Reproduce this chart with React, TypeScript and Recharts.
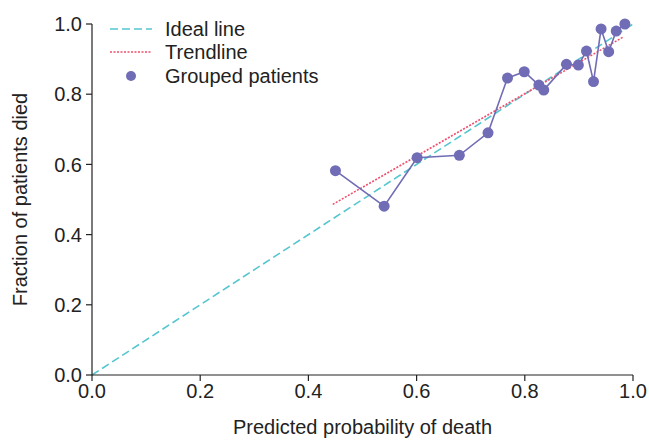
import React from "react";
import {
    ComposedChart,
    Line,
    XAxis,
    YAxis,
    Label
} from "recharts";

// Grouped patients: predicted probability vs observed fraction
const predicted = [0.450, 0.540, 0.601, 0.679, 0.732, 0.768, 0.799, 0.826, 0.835, 0.877, 0.899, 0.914, 0.927, 0.941, 0.955, 0.969, 0.985];
const observed = [0.582, 0.481, 0.619, 0.626, 0.690, 0.846, 0.864, 0.826, 0.812, 0.885, 0.883, 0.923, 0.836, 0.986, 0.921, 0.980, 1.000];

const idealX = [0, 1];
const idealY = [0, 1];
const trendX = [0.445, 0.983];
const trendY = [0.486, 0.964];

const ticks = [0, 0.2, 0.4, 0.6, 0.8, 1.0];

const groupedData = predicted.map((x, i) => ({ x, y: observed[i] }));
const idealData = idealX.map((x, i) => ({ x, y: idealY[i] }));
const trendData = trendX.map((x, i) => ({ x, y: trendY[i] }));

const IDEAL = "#55c6cf";
const TREND = "#f04e6c";
const POINTS = "#706cb5";
const INK = "#222";
const FONT = "'Liberation Sans', Arial, sans-serif";

function ChartLegend() {
    const row = { display: "flex", alignItems: "center", height: 23.5 } as React.CSSProperties;
    return (
        <div style={{ position: "absolute", left: 110, top: 17, fontFamily: FONT, fontSize: 20, color: INK, lineHeight: 1 }}>
            <div style={row}>
                <svg width={55} height={10}>
                    <line x1={0} y1={5} x2={42} y2={5} stroke={IDEAL} strokeWidth={1.6} strokeDasharray="8 4" />
                </svg>
                <span>Ideal line</span>
            </div>
            <div style={row}>
                <svg width={55} height={10}>
                    <line x1={0} y1={5} x2={42} y2={5} stroke={TREND} strokeWidth={1.6} strokeDasharray="2 1.5" />
                </svg>
                <span>Trendline</span>
            </div>
            <div style={row}>
                <svg width={55} height={12}>
                    <circle cx={21} cy={6} r={5} fill={POINTS} />
                </svg>
                <span>Grouped patients</span>
            </div>
        </div>
    );
}

export default function App() {
    return (
        <div style={{ position: "relative", width: 649, height: 440 }}>
            <style>{`body{margin:0;}`}</style>
            <ComposedChart width={649} height={440} margin={{ top: 24, right: 16, left: 0, bottom: 0 }}>
                <XAxis
                    type="number"
                    dataKey="x"
                    domain={[0, 1]}
                    ticks={ticks}
                    tickFormatter={(v: number) => v.toFixed(1)}
                    height={65}
                    tickSize={6}
                    tickMargin={3}
                    axisLine={{ stroke: INK, strokeWidth: 1.2 }}
                    tickLine={{ stroke: INK, strokeWidth: 1.2 }}
                    tick={{ fontSize: 20, fill: INK, fontFamily: FONT }}
                    allowDuplicatedCategory={false}
                >
                    <Label
                        value="Predicted probability of death"
                        position="insideBottom"
                        offset={6}
                        style={{ fontSize: 20, fill: INK, fontFamily: FONT }}
                    />
                </XAxis>
                <YAxis
                    type="number"
                    dataKey="y"
                    domain={[0, 1]}
                    ticks={ticks}
                    tickFormatter={(v: number) => v.toFixed(1)}
                    width={92}
                    tickSize={6}
                    tickMargin={4}
                    axisLine={{ stroke: INK, strokeWidth: 1.2 }}
                    tickLine={{ stroke: INK, strokeWidth: 1.2 }}
                    tick={{ fontSize: 20, fill: INK, fontFamily: FONT }}
                >
                    <Label
                        value="Fraction of patients died"
                        angle={-90}
                        position="insideLeft"
                        offset={20}
                        style={{ fontSize: 20, fill: INK, fontFamily: FONT, textAnchor: "middle" }}
                    />
                </YAxis>
                <Line
                    data={idealData}
                    dataKey="y"
                    type="linear"
                    stroke={IDEAL}
                    strokeWidth={1.6}
                    strokeDasharray="8 4"
                    dot={false}
                    isAnimationActive={false}
                />
                <Line
                    data={trendData}
                    dataKey="y"
                    type="linear"
                    stroke={TREND}
                    strokeWidth={1.6}
                    strokeDasharray="2 1.5"
                    dot={false}
                    isAnimationActive={false}
                />
                <Line
                    data={groupedData}
                    dataKey="y"
                    type="linear"
                    stroke={POINTS}
                    strokeWidth={1.6}
                    dot={{ r: 5.5, fill: POINTS, stroke: "none" }}
                    activeDot={false}
                    isAnimationActive={false}
                />
            </ComposedChart>
            <ChartLegend />
        </div>
    );
}
